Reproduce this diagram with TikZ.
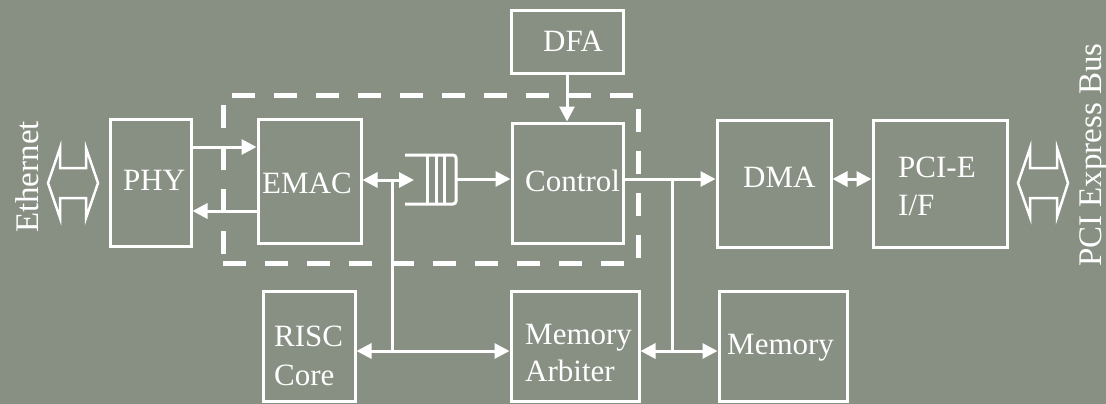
\documentclass[tikz,border=0pt]{standalone}
\usepackage{fontspec}
\setmainfont{Liberation Serif}
\usetikzlibrary{arrows.meta}
\definecolor{bgc}{RGB}{136,143,131}
\begin{document}
\begin{tikzpicture}[x=1pt,y=-1pt,
  box/.style={draw=white,line width=3pt,rectangle,inner sep=0pt},
  txt/.style={text=white,inner sep=0pt,font=\fontsize{31}{34}\selectfont},
  sidetxt/.style={txt,font=\fontsize{33}{36}\selectfont},
  conn/.style={draw=white,line width=3pt},
  arr/.style={conn,-{Triangle[length=15pt,width=15pt]}},
  darr/.style={conn,{Triangle[length=15pt,width=15pt]}-{Triangle[length=15pt,width=15pt]}},
  dashbox/.style={draw=white,line width=5pt,dash pattern=on 23pt off 19pt,rectangle,inner sep=0pt},
  hollow/.style={draw=white,line width=2.5pt,line join=miter}]
\fill[bgc] (0,0) rectangle (1106,404);
\useasboundingbox (0,0) rectangle (1106,404);

% group frame
\node[dashbox,minimum width=415pt,minimum height=168pt] (grp) at (430.5,179) {};

% boxes
\node[box,minimum width=81pt,minimum height=127pt] (PHY) at (150.5,182.5) {};
\node[box,minimum width=103pt,minimum height=124pt] (EMAC) at (309.5,181) {};
\node[box,minimum width=111pt,minimum height=120pt] (CTRL) at (567.5,183) {};
\node[box,minimum width=112pt,minimum height=63pt] (DFA) at (567,42.5) {};
\node[box,minimum width=114pt,minimum height=127pt] (DMA) at (774,183.5) {};
\node[box,minimum width=134pt,minimum height=127pt] (PCIE) at (940,183.5) {};
\node[box,minimum width=92pt,minimum height=110pt] (RISC) at (309,346) {};
\node[box,minimum width=128pt,minimum height=110pt] (ARB) at (575,346) {};
\node[box,minimum width=128pt,minimum height=110pt] (MEM) at (783,346) {};

% texts
\node[txt,anchor=base west] (tPHY) at (123,190) {PHY};
\node[txt,anchor=base west] (tEMAC) at (262,193) {EMAC};
\node[txt,anchor=base west] (tCTRL) at (525,191) {Control};
\node[txt,anchor=base west] (tDFA) at (543,52) {DFA};
\node[txt,anchor=base west] (tDMA) at (743,187) {DMA};
\node[txt,anchor=base west] (tPCIE1) at (898,177) {PCI-E};
\node[txt,anchor=base west] (tPCIE2) at (898,215) {I/F};
\node[txt,anchor=base west] (tRISC1) at (274,346) {RISC};
\node[txt,anchor=base west] (tRISC2) at (274,385) {Core};
\node[txt,anchor=base west] (tARB1) at (525,344) {Memory};
\node[txt,anchor=base west] (tARB2) at (525,381) {Arbiter};
\node[txt,anchor=base west] (tMEM) at (727,354) {Memory};
\node[sidetxt,anchor=base,rotate=90] (tEth) at (38,177) {Ethernet};
\node[sidetxt,anchor=base,rotate=90] (tBus) at (1101,155) {PCI Express Bus};

% hollow double arrows
\draw[hollow] (48,183) -- (60,148) -- (60,168) -- (86,168) -- (86,148) -- (98,183)
  -- (86,218) -- (86,198) -- (60,198) -- (60,218) -- cycle;
\draw[hollow] (1018,183) -- (1030,148) -- (1030,168) -- (1057,168) -- (1057,148) -- (1068,183)
  -- (1057,217) -- (1057,198) -- (1030,198) -- (1030,217) -- cycle;

% queue
\draw[conn,rounded corners=3pt] (405,155) -- (456,155) -- (456,204) -- (405,204);
\draw[conn] (427,155) -- (427,204) (436,155) -- (436,204) (444,155) -- (444,204);
\coordinate (qin) at (414,180);
\coordinate (qout) at (456,179);

% connectors
\draw[arr] ([yshift=35.5pt]PHY.east) coordinate (a1) -- (a1 -| EMAC.west);
\coordinate (b1) at ([yshift=-28.5pt]PHY.east);
\draw[arr] (b1 -| EMAC.west) -- (b1);
\draw[darr] (EMAC.east |- qin) -- (qin);
\coordinate (j1) at (392,180);
\coordinate (j2) at (392,351);
\draw[conn] (j1) -- (j2);
\draw[darr] (RISC.east |- j2) -- (ARB.west |- j2);
\draw[arr] (qout) -- (qout -| CTRL.west);
\draw[arr] (DFA.south) -- (DFA.south |- CTRL.north);
\draw[arr] (CTRL.east |- qout) -- (DMA.west |- qout);
\coordinate (j3) at (672,179);
\coordinate (j4) at (672,351);
\draw[conn] (j3) -- (j4);
\draw[darr] (DMA.east |- qout) -- (PCIE.west |- qout);
\draw[darr] (ARB.east |- j4) -- (MEM.west |- j4);
\end{tikzpicture}
\end{document}
